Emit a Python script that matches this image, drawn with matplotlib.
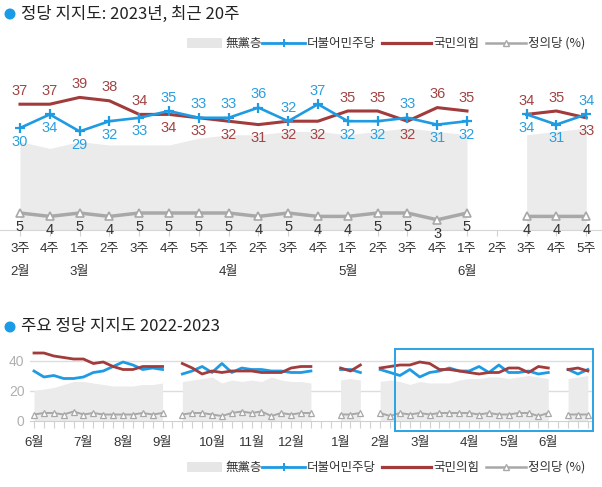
import numpy as np
import matplotlib
matplotlib.use('Agg')
import matplotlib.pyplot as plt
from matplotlib.patches import Rectangle, Circle
from matplotlib.lines import Line2D

plt.rcParams['font.family'] = ['Liberation Sans', 'Noto Sans CJK KR', 'DejaVu Sans']

# ---------------- data: top chart (2023, last 20 weeks) ----------------
weeks = ['3주', '4주', '1주', '2주', '3주', '4주', '5주', '1주', '2주', '3주',
         '4주', '1주', '2주', '3주', '4주', '1주', '2주', '3주', '4주', '5주']
months = ['2월', '3월', '4월', '5월', '6월']
ppp = [37, 37, 39, 38, 34, 34, 33, 32, 31, 32, 32, 35, 35, 32, 36, 35, None, 34, 35, 33]
dpk = [30, 34, 29, 32, 33, 35, 33, 33, 36, 32, 37, 32, 32, 33, 31, 32, None, 34, 31, 34]
justice = [5, 4, 5, 4, 5, 5, 5, 5, 4, 5, 4, 4, 5, 5, 3, 5, None, 4, 4, 4]
indep = [26, 24, 26, 25, 25, 25, 27, 28, 28, 29, 29, 28, 29, 30, 29, 28, None, 28, 29, 30]

# ---------------- data: bottom chart (2022-06 .. 2023-06, weekly) ----------------
ppp_long = [45, 45, 43, 42, 41, 41, 38, 39, 36, 34, 34, 36, 36, 36, None,
            38, 35, 31, 33, 32, 33, 33, 33, 32, 32, 32, 35, 36, 36, None, None,
            35, 33, 37, None, 35, 36] + ppp
dpk_long = [33, 29, 30, 28, 28, 29, 32, 33, 36, 39, 37, 34, 35, 34, None,
            31, 33, 36, 32, 38, 32, 35, 34, 34, 33, 33, 32, 32, 33, None, None,
            34, 34, 32, None, 34, 32] + dpk
indep_long = [20, 21, 22, 24, 26, 26, 25, 24, 23, 23, 23, 24, 24, 25, None,
              26, 27, 28, 29, 25, 27, 26, 27, 26, 29, 27, 26, 26, 25, None, None,
              27, 28, 27, None, 26, 27] + indep
justice_long = [4, 5, 5, 4, 6, 4, 5, 4, 4, 4, 4, 5, 4, 5, None,
                4, 5, 5, 4, 3, 5, 6, 5, 6, 3, 5, 4, 5, 5, None, None,
                4, 4, 5, None, 5, 3] + justice
bottom_months = ['6월', '7월', '8월', '9월', '10월', '11월', '12월', '1월', '2월', '3월', '4월', '5월', '6월']
bottom_month_idx = [0, 5, 9, 13, 18, 22, 26, 31, 35, 39, 44, 48, 52]
yticks_bottom = [0, 20, 40]

series_names = ['無黨층', '더불어민주당', '국민의힘', '정의당 (%)']

# label placement for top chart (True = above the point)
dpk_above = [False, False, False, False, False, True, True, True, True, True,
             True, False, False, True, False, False, None, False, False, True]

# ---------------- style ----------------
BLUE = '#1e9be2'
RED = '#a23b3b'
GREY = '#a8a8a8'
AREA = '#ebebeb'
BLUE_T = '#2a9fe0'
RED_T = '#a24444'
W, H = 602, 487

fig = plt.figure(figsize=(W / 100, H / 100), dpi=100)


def arr(v):
    return np.array([np.nan if x is None else x for x in v], dtype=float)


def segments(v):
    a = arr(v)
    ok = ~np.isnan(a)
    segs, cur = [], []
    for i in range(len(a)):
        if ok[i]:
            cur.append(i)
        elif cur:
            segs.append(cur)
            cur = []
    if cur:
        segs.append(cur)
    return segs


# ---------------- top chart ----------------
# pixel mapping: x = 20 + 29.8*i, y = 230 - 3.4*v
x0, dx = 20, 29.8
yb, dy = 230, 3.4
ytop = 80
ax = fig.add_axes([0, (H - yb) / H, 1, (yb - ytop) / H])
ax.set_facecolor('none')
ax.set_xlim((0 - x0) / dx, (W - x0) / dx)
ax.set_ylim(0, (yb - ytop) / dy)
for s in ['top', 'left', 'right']:
    ax.spines[s].set_visible(False)
ax.spines['bottom'].set_color('#d6d6d6')
ax.set_yticks([])
ax.set_xticks(range(len(weeks)))
ax.set_xticklabels([])
ax.tick_params(axis='x', length=4, color='#d0d0d0')

xs = np.arange(len(weeks))
for seg in segments(indep):
    ax.fill_between(xs[seg], 0, arr(indep)[seg], color=AREA, lw=0, zorder=1)
ax.plot(xs, arr(justice), color=GREY, lw=2.5, marker='^', ms=6, mfc='white',
        mec=GREY, mew=1.2, zorder=2)
ax.plot(xs, arr(ppp), color=RED, lw=2.2, zorder=3)
ax.plot(xs, arr(dpk), color=BLUE, lw=1.9, marker='+', ms=7, mew=1.6, zorder=4)

for i in range(len(weeks)):
    if dpk[i] is not None:
        up = dpk_above[i]
        ax.annotate(str(dpk[i]), xy=(i, dpk[i]), xytext=(0, 13.5 if up else -13.5),
                    textcoords='offset pixels', ha='center', va='center',
                    fontsize=10.5, color=BLUE_T, annotation_clip=False)
        ax.annotate(str(ppp[i]), xy=(i, ppp[i]), xytext=(0, -13.5 if up else 13.5),
                    textcoords='offset pixels', ha='center', va='center',
                    fontsize=10.5, color=RED_T, annotation_clip=False)
        ax.annotate(str(justice[i]), xy=(i, justice[i]), xytext=(0, -14),
                    textcoords='offset pixels', ha='center', va='center',
                    fontsize=10.5, color='#333333', annotation_clip=False)
    ax.annotate(weeks[i], xy=(i, 0), xytext=(0, -19), textcoords='offset pixels',
                ha='center', va='center', fontsize=9.5, color='#333333',
                annotation_clip=False)

month_pos = [0] + [i for i, w in enumerate(weeks) if w == '1주']
for m, p in zip(months, month_pos):
    ax.annotate(m, xy=(p, 0), xytext=(0, -42), textcoords='offset pixels',
                ha='center', va='center', fontsize=9.5, color='#333333',
                annotation_clip=False)

# ---------------- bottom chart ----------------
# pixel mapping: x = 34 + 9.89*i, y = 420.5 - 1.5*v
bx0, bdx = 34, 9.89
byb, bdy = 420.5, 1.5
bytop = 340
bl, br = 30, 592
ax2 = fig.add_axes([bl / W, (H - byb) / H, (br - bl) / W, (byb - bytop) / H])
ax2.set_facecolor('none')
ax2.set_xlim((bl - bx0) / bdx, (br - bx0) / bdx)
ax2.set_ylim(0, (byb - bytop) / bdy)
for s in ['top', 'left', 'right']:
    ax2.spines[s].set_visible(False)
ax2.spines['bottom'].set_color('#d0d0d0')
n = len(ppp_long)
xl = np.arange(n)
ax2.set_xticks(xl)
ax2.set_xticklabels([])
ax2.tick_params(axis='x', length=5, color='#d0d0d0')
ax2.set_yticks(yticks_bottom)
ax2.set_yticklabels([str(t) for t in yticks_bottom], fontsize=10, color='#b0b0b0')
ax2.tick_params(axis='y', length=0, pad=4)
for t in yticks_bottom[1:]:
    ax2.axhline(t, color='#dddddd', lw=1, zorder=0)

for seg in segments(indep_long):
    ax2.fill_between(xl[seg], 0, arr(indep_long)[seg], color=AREA, lw=0, zorder=1)
ax2.plot(xl, arr(justice_long), color=GREY, lw=1.4, marker='^', ms=4, mfc='white',
         mec=GREY, mew=0.9, zorder=2)
ax2.plot(xl, arr(dpk_long), color=BLUE, lw=2.0, zorder=3)
ax2.plot(xl, arr(ppp_long), color=RED, lw=2.0, zorder=4)

for m, p in zip(bottom_months, bottom_month_idx):
    ax2.annotate(m, xy=(p, 0), xytext=(0, -22.5), textcoords='offset pixels',
                 ha='center', va='center', fontsize=9.5, color='#333333',
                 annotation_clip=False)

# highlight box for the last 20 weeks
start = n - len(ppp) - 0.5
ax2.add_patch(Rectangle((start, -6.8), len(ppp), 54.8, fill=False, ec='#2aa3e6',
                        lw=1.4, clip_on=False, zorder=5))

# ---------------- overlay: titles and legends ----------------
ov = fig.add_axes([0, 0, 1, 1])
ov.set_xlim(0, W)
ov.set_ylim(H, 0)
ov.axis('off')
ov.set_zorder(10)

for ty, title in [(14, '정당 지지도: 2023년, 최근 20주'), (327, '주요 정당 지지도 2022-2023')]:
    ov.add_patch(Circle((10, ty), 5.5, color='#1a9be6', lw=0))
    ov.text(21, ty, title, fontsize=12, va='center', ha='left', color='#222222',
            family=['Noto Sans CJK KR', 'DejaVu Sans'])


def legend(y):
    ov.add_patch(Rectangle((187, y - 5), 35, 10, color='#e6e6e6', lw=0))
    ov.text(225, y, series_names[0], fontsize=9, va='center', color='#333333',
            family=['Noto Sans CJK KR'])
    ov.add_line(Line2D([262, 305], [y, y], color=BLUE, lw=2))
    ov.add_line(Line2D([283.5], [y], color=BLUE, marker='+', ms=6, mew=1.4))
    ov.text(307, y, series_names[1], fontsize=9, va='center', color='#333333',
            family=['Noto Sans CJK KR'])
    ov.add_line(Line2D([382, 431], [y, y], color=RED, lw=2.3))
    ov.text(433, y, series_names[2], fontsize=9, va='center', color='#333333',
            family=['Noto Sans CJK KR'])
    ov.add_line(Line2D([486, 526], [y, y], color=GREY, lw=1.8))
    ov.add_line(Line2D([506], [y], color=GREY, marker='^', ms=5, mfc='white', mec=GREY))
    ov.text(528, y, series_names[3], fontsize=9, va='center', color='#333333',
            family=['Noto Sans CJK KR', 'DejaVu Sans'])


legend(43)
legend(467)

fig.savefig('out.png', dpi=100)
